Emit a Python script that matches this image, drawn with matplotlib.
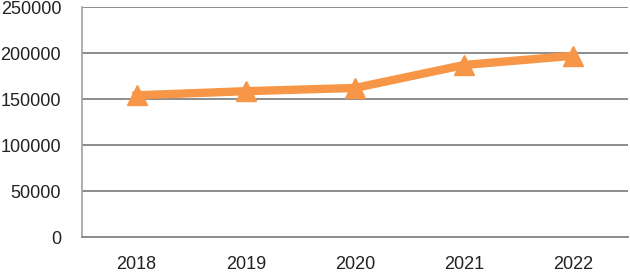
import matplotlib
matplotlib.use("Agg")
import matplotlib.pyplot as plt

years = ["2018", "2019", "2020", "2021", "2022"]
values = [154000, 158500, 162000, 187000, 197000]
yticks = [0, 50000, 100000, 150000, 200000, 250000]

fig = plt.figure(figsize=(6.3, 2.77), dpi=100)
ax = fig.add_axes([82/630, 40/277, 546/630, 230/277])

x = list(range(len(years)))
ax.plot(x, values, color="#F79646", linewidth=6, marker="^", markersize=15,
        markerfacecolor="#F79646", markeredgecolor="#F79646", solid_joinstyle="round", zorder=3)

ax.set_xlim(-0.5, len(years) - 0.5)
ax.set_ylim(0, 250000)
ax.set_yticks(yticks)
ax.set_yticklabels([str(v) for v in yticks])
ax.set_xticks(x)
ax.set_xticklabels(years)
ax.yaxis.grid(True, color="#8c8c8c", linewidth=1.4)
ax.set_axisbelow(True)
for s in ["top", "right"]:
    ax.spines[s].set_visible(False)
ax.spines["left"].set_color("#a0a0a0")
ax.spines["left"].set_linewidth(1.2)
ax.spines["bottom"].set_color("#8c8c8c")
ax.spines["bottom"].set_linewidth(1.4)
ax.tick_params(axis="both", length=0, labelsize=13, colors="#222222", labelfontfamily="Liberation Sans")
ax.tick_params(axis="y", pad=15)
ax.tick_params(axis="x", pad=14)

fig.savefig("out.png", dpi=100)
